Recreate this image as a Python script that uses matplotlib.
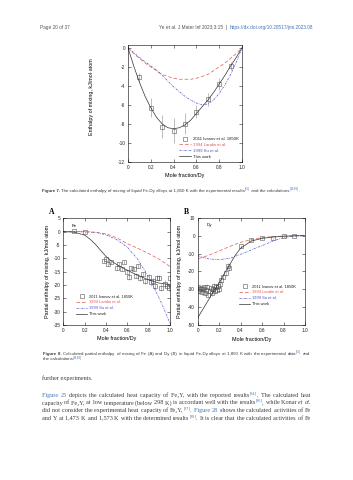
import numpy as np
import matplotlib.pyplot as plt
from matplotlib.text import Annotation

plt.rcParams['font.family'] = ['Liberation Sans', 'DejaVu Sans']
plt.rcParams['axes.unicode_minus'] = False

# ---- Figure 7: enthalpy of mixing ----
mix_x = [0, .05, .1, .15, .2, .25, .3, .35, .4, .45, .5, .55, .6, .65, .7, .75, .8, .85, .9, .95, 1.0]
mix_this = [0, -1.9, -3.6, -5.1, -6.3, -7.3, -8.0, -8.4, -8.5, -8.4, -8.1, -7.6, -6.9, -6.2, -5.5, -4.7, -3.8, -2.9, -1.9, -1.0, 0]
mix_landin = [0, -0.6, -1.1, -1.6, -2.0, -2.4, -2.8, -3.0, -3.2, -3.3, -3.3, -3.3, -3.2, -3.0, -2.8, -2.4, -2.0, -1.6, -1.1, -0.6, 0]
mix_su = [0, -0.5, -1.0, -1.45, -1.9, -2.35, -2.9, -3.5, -4.1, -4.6, -5.1, -5.5, -5.8, -6.0, -5.9, -5.5, -4.8, -3.9, -2.8, -1.5, 0]
ivanov_x = [.1, .2, .3, .4, .5, .6, .7, .8, .9]
ivanov_mix = [-3.1, -6.3, -8.3, -8.7, -8.0, -6.7, -5.4, -3.8, -1.9]
ivanov_err = [0.5, 1.0, 1.2, 1.3, 1.1, 0.7, 0.7, 0.6, 0.4]

# ---- Figure 8A: partial enthalpy of Fe ----
fe_x = [0, .1, .2, .25, .3, .35, .4, .45, .5, .6, .7, .8, .9, 1.0]
fe_this = [0, -0.2, -1.3, -2.8, -4.7, -7.0, -9.3, -11.0, -12.3, -14.5, -16.4, -18.1, -19.3, -19.8]
fe_grid = [0, .1, .2, .3, .4, .5, .6, .7, .8, .9, .95, 1.0]
fe_landin = [0, 0, -0.1, -0.3, -0.8, -2.3, -4.5, -6.3, -8.2, -10.4, -11.7, -13.1]
fe_su = [0, 0, 0, -0.2, -1.2, -3.0, -5.8, -10.5, -17.0, -25.0, -29.5, -34.5]
fe_obs_x = [.1, .2, .38, .40, .42, .45, .50, .52, .55, .57, .60, .62, .63, .66, .68, .70,
            .72, .75, .77, .80, .82, .84, .86, .88, .90, .92, .95, .97, .99, 1.0]
fe_obs_y = [0.1, -0.2, -11, -10.2, -12, -11.5, -13.5, -12, -14, -11.5, -15, -17, -13.5, -14, -16.5, -13,
            -17.5, -16, -18.5, -17, -19, -18.5, -20.5, -17.3, -17.5, -21, -19.5, -20.5, -21, -17.5]
fe_obs_err = [0.3, 0.3, 0.8, 0.6, 0.8, 0.6, 0.9, 0.7, 0.9, 0.7, 1.0, 1.0, 0.8, 0.9, 1.0, 0.8,
              1.0, 1.0, 1.1, 1.0, 1.2, 1.1, 1.2, 1.0, 1.1, 1.3, 1.2, 1.3, 1.3, 1.1]

# ---- Figure 8B: partial enthalpy of Dy ----
dy_x = [0, .05, .1, .15, .2, .25, .3, .35, .4, .5, .6, .7, .8, .9, 1.0]
dy_this = [-46, -41, -36, -31, -26.5, -21, -16, -11, -7, -3, -1.5, -0.8, -0.3, -0.1, 0]
dy_grid = [0, .1, .2, .3, .4, .5, .6, .7, .8, .9, 1.0]
dy_landin_x = [0, 0, .1, .2, .3, .4, .5, .6, .7, .8, .9, 1.0]
dy_landin = [-28, -13, -11, -8.6, -6.0, -3.7, -2.2, -1.1, -0.5, -0.2, -0.05, 0]
dy_su = [-11.2, -13.0, -13.4, -12.7, -10.4, -8.0, -5.6, -3.0, -1.1, -0.2, 0]
dy_obs_x = [0, .01, .02, .03, .04, .05, .06, .07, .08, .09, .10, .11, .12, .13, .14, .15, .16, .17,
            .18, .19, .20, .21, .22, .24, .26, .28, .29, .40, .50, .60, .70, .80, .90]
dy_obs_y = [-29, -31, -30, -29.5, -31.5, -30, -29, -32, -30.5, -28.5, -33, -31, -29.5, -32, -30, -28,
            -31, -29, -30.5, -28, -30, -27, -25, -23, -21, -17, -18, -6, -2.5, -1.5, -1.5, 0, 0]
dy_obs_err = [1.5] * 27 + [0.8, 0.5, 0.4, 0.4, 0.3, 0.3]

legend_labels = ['2011 Ivanov et al. 1850K', '1994 Landin et al.', '1999 Su et al.', 'This work']

RED = '#e0574f'
BLUE = '#5252d0'
GREY = '#555555'
TXT = '#3c3c3c'
LINK = '#3f74b5'

W, H = 353, 480
fig = plt.figure(figsize=(W / 100, H / 100), dpi=100)


def px_axes(l, t, r, b):
    return fig.add_axes([l / W, 1 - b / H, (r - l) / W, (b - t) / H])


def style(ax):
    ax.tick_params(direction='in', top=True, right=True, length=2, width=0.4,
                   labelsize=3.4, pad=2, colors='#222222')
    for s in ax.spines.values():
        s.set_linewidth(0.4)
    ax.set_xlim(0, 1)
    ax.set_xticks([0, 0.2, 0.4, 0.6, 0.8, 1.0])
    ax.set_xticklabels(['0', '0.2', '0.4', '0.6', '0.8', '1.0'])


def draw_panel(ax, obs_x, obs_y, obs_err, lx, ly, sx, sy, tx, ty):
    ax.errorbar(obs_x, obs_y, yerr=obs_err, fmt='none', ecolor='#8a8a8a', elinewidth=0.4, capsize=0)
    ax.plot(obs_x, obs_y, 's', ms=2.4, mfc='none', mec=GREY, mew=0.4, label=legend_labels[0])
    ax.plot(lx, ly, color=RED, lw=0.5, ls=(0, (5, 3)), label=legend_labels[1])
    ax.plot(sx, sy, color=BLUE, lw=0.5, ls=(0, (3, 1.5, 1, 1.5)), label=legend_labels[2])
    ax.plot(tx, ty, color='#333333', lw=0.5, label=legend_labels[3])


def legend(ax, x, y, fs=3.0):
    lg = ax.legend(loc='upper left', bbox_to_anchor=(x / W, 1 - y / H), bbox_transform=fig.transFigure,
                   frameon=False, fontsize=fs, handlelength=2.8, handletextpad=0.4,
                   labelspacing=0.45, borderpad=0, borderaxespad=0)
    for t, c in zip(lg.get_texts(), ['#222222', RED, BLUE, '#222222']):
        t.set_color(c)


def rich(x, y, parts, size, family, color=TXT, width=None):
    # pieces chained left to right; 'sup' pieces are raised and smaller
    tokens = []
    for p in parts:
        if isinstance(p, str):
            p = (p, {})
        text, kw = p
        if width and not kw.get('sup'):
            words = text.split(' ')
            for i, w in enumerate(words):
                piece = w + (' ' if i < len(words) - 1 else '')
                if piece:
                    tokens.append((piece, kw))
        else:
            tokens.append((text, kw))
    arts, gaps = [], []
    prev, level, after_space = None, 0, False
    for piece, kw in tokens:
        kw = dict(kw)
        sup = kw.pop('sup', False)
        fs = size * 0.65 if sup else size
        lift = size * 0.45 if sup else 0
        props = dict(fontsize=fs, family=family, color=color)
        props.update(kw)
        if prev is None:
            t = fig.text(x / W, 1 - y / H, piece, va='center', ha='left', **props)
        else:
            t = Annotation(piece, xy=(1, 0), xycoords=prev, xytext=(0, lift - level),
                           textcoords='offset points', va='bottom', ha='left', **props)
            fig.add_artist(t)
            if after_space:
                gaps.append(t)
        after_space = piece.endswith(' ')
        prev, level = t, lift
        arts.append(t)
    if width and gaps:
        fig.canvas.draw()
        r = fig.canvas.get_renderer()
        x1 = max(a.get_window_extent(r).x1 for a in arts)
        extra = (width - (x1 - x)) / len(gaps)
        for g in gaps:
            g.xyann = (extra * 0.72, g.xyann[1])


# header
rich(40.5, 27, ['Page 20 of 37'], 3.4, ['Liberation Sans'], color='#555555')
rich(159, 27, ['Ye et al. J Mater Inf 2023;3:15  |  ',
               ('https://dx.doi.org/10.20517/jmi.2023.08', dict(color=LINK))],
     3.4, ['Liberation Sans'], color='#555555')

# Figure 7
ax7 = px_axes(128, 45, 242, 162)
style(ax7)
draw_panel(ax7, ivanov_x, ivanov_mix, ivanov_err, mix_x, mix_landin, mix_x, mix_su, mix_x, mix_this)
ax7.set_ylim(-12, 0.3)
ax7.set_yticks([0, -2, -4, -6, -8, -10, -12])
ax7.set_xlabel('Mole fraction/Dy', fontsize=3.9)
ax7.set_ylabel('Enthalpy of mixing, kJ/mol\u00b7atom', fontsize=3.9)
ax7.xaxis.set_label_coords(0.5, (162 - 176) / 117)
ax7.yaxis.set_label_coords((92 - 128) / 114, 0.56)
ax7.xaxis.label.set_va('center')
ax7.yaxis.label.set_va('center')
legend(ax7, 179, 137, 3.1)

cap = 3.2
rich(42, 191, [('Figure 7. ', dict(weight='bold')),
               'The calculated enthalpy of mixing of liquid Fe-Dy alloys at 1,850 K with the experimental results',
               ('[85]', dict(color=LINK, sup=True)), ' and the calculations',
               ('[44,89]', dict(color=LINK, sup=True)), '.'],
     cap, ['Liberation Sans'])

# Figure 8A
axa = px_axes(63.3, 218.3, 170, 325)
style(axa)
draw_panel(axa, fe_obs_x, fe_obs_y, fe_obs_err, fe_grid, fe_landin, fe_grid, fe_su, fe_x, fe_this)
axa.set_ylim(-35, 5)
axa.set_yticks([5, 0, -5, -10, -15, -20, -25, -30, -35])
axa.text(0.08, 0.95, 'Fe', transform=axa.transAxes, fontsize=3.2, va='top')

# Figure 8B
axb = px_axes(197.7, 217.8, 305, 325)
style(axb)
draw_panel(axb, dy_obs_x, dy_obs_y, dy_obs_err, dy_landin_x, dy_landin, dy_grid, dy_su, dy_x, dy_this)
axb.set_ylim(-50, 10)
axb.set_yticks([10, 0, -10, -20, -30, -40, -50])
axb.text(0.08, 0.95, 'Dy', transform=axb.transAxes, fontsize=3.2, va='top')

for ax, lx in ((axa, 47), (axb, 180)):
    ax.set_xlabel('Mole fraction/Dy', fontsize=3.9)
    ax.set_ylabel('Partial enthalpy of mixing, kJ/mol\u00b7atom', fontsize=3.9)
    l, r = ax.get_position().x0 * W, ax.get_position().x1 * W
    ax.xaxis.set_label_coords(0.5, (325 - 339) / 107)
    ax.yaxis.set_label_coords((lx - l) / (r - l), 0.5)
    ax.xaxis.label.set_va('center')
    ax.yaxis.label.set_va('center')

legend(axa, 76, 294.5, 2.9)
legend(axb, 239, 284.5, 2.9)

fig.text(52 / W, 1 - 212 / H, 'A', fontsize=5.5, weight='bold', family='Liberation Serif', va='center', ha='center')
fig.text(186 / W, 1 - 212 / H, 'B', fontsize=5.5, weight='bold', family='Liberation Serif', va='center', ha='center')

rich(43, 354, [('Figure 8. ', dict(weight='bold')),
               'Calculated partial enthalpy of mixing of Fe (A) and Dy (B) in liquid Fe-Dy alloys at 1,850 K with the experimental data',
               ('[85]', dict(color=LINK, sup=True)), ' and'], cap, ['Liberation Sans'], width=267)
rich(43, 359.5, ['the calculations', ('[44,89]', dict(color=LINK, sup=True))], cap, ['Liberation Sans'])

# body text
serif = ['Liberation Serif', 'DejaVu Serif']
bs = 4.4
bw = 269
rich(42, 378, ['further experiments.'], bs, serif)
rich(42, 395.5, [('Figure 25', dict(color=LINK)), ' depicts the calculated heat capacity of Fe\u2082Y, with the reported results',
                 ('[84]', dict(color=LINK, sup=True)), '. The calculated heat'], bs, serif, width=bw)
rich(42, 403, ['capacity of Fe\u2082Y, at low temperature (below 298 K) is accordant well with the results',
               ('[86]', dict(color=LINK, sup=True)), ', while Konar ', ('et al.', dict(style='italic'))],
     bs, serif, width=bw)
rich(42, 410.7, ['did not consider the experimental heat capacity of Fe\u2082Y,', ('[87]', dict(color=LINK, sup=True)),
                 '. ', ('Figure 28', dict(color=LINK)), ' shows the calculated activities of Fe'], bs, serif, width=bw)
rich(42, 418.3, ['and Y at 1,473 K and 1,573 K with the determined results', ('[88]', dict(color=LINK, sup=True)),
                 '. It is clear that the calculated activities of Fe'], bs, serif, width=bw)

fig.savefig('out.png', dpi=100)
